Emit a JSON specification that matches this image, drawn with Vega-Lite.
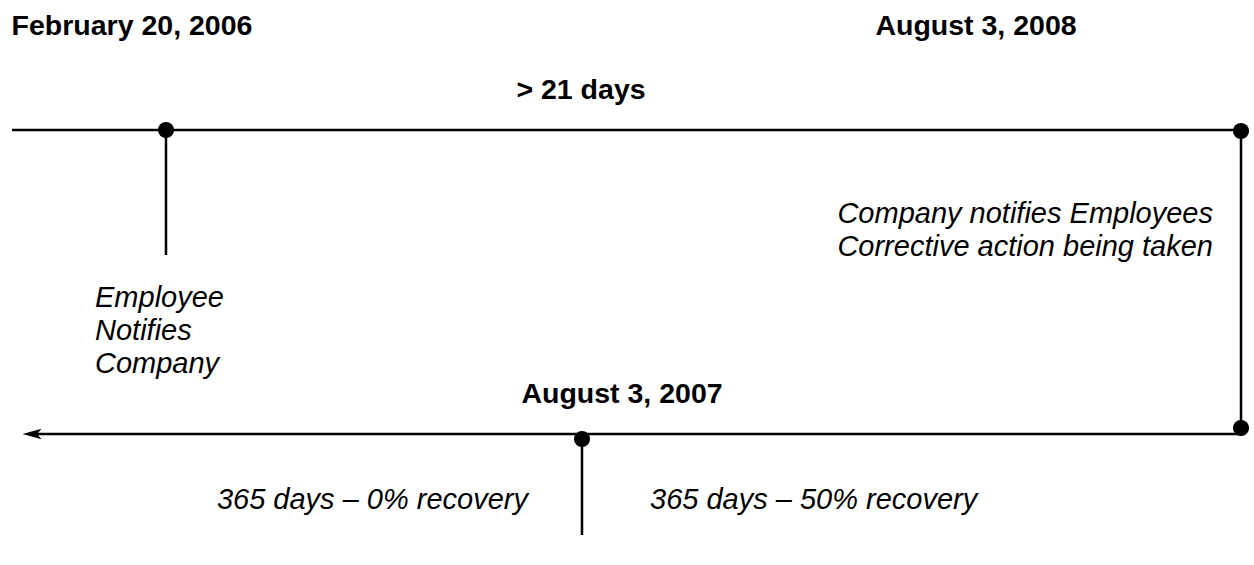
{
  "$schema": "https://vega.github.io/schema/vega-lite/v6.json",
  "width": 1254,
  "height": 565,
  "padding": 0,
  "autosize": {"type": "fit", "contains": "padding"},
  "background": "white",
  "config": {"view": {"stroke": null}},
  "layer": [
    {
      "data": {"values": [
        {"x1": 12, "y1": 130, "x2": 1241, "y2": 130},
        {"x1": 166, "y1": 130, "x2": 166, "y2": 255},
        {"x1": 1241, "y1": 130, "x2": 1241, "y2": 430},
        {"x1": 30, "y1": 434, "x2": 1241, "y2": 434},
        {"x1": 582, "y1": 438, "x2": 582, "y2": 535}
      ]},
      "mark": {"type": "rule", "color": "black", "strokeWidth": 2.5},
      "encoding": {
        "x": {"field": "x1", "type": "quantitative", "scale": {"domain": [0, 1254], "nice": false, "zero": false}, "axis": null},
        "x2": {"field": "x2"},
        "y": {"field": "y1", "type": "quantitative", "scale": {"domain": [0, 565], "nice": false, "zero": false, "reverse": true}, "axis": null},
        "y2": {"field": "y2"}
      }
    },
    {
      "data": {"values": [
        {"x": 166, "y": 130},
        {"x": 1241, "y": 131},
        {"x": 1241, "y": 428},
        {"x": 582, "y": 439}
      ]},
      "mark": {"type": "point", "shape": "circle", "filled": true, "color": "black", "size": 260, "opacity": 1},
      "encoding": {
        "x": {"field": "x", "type": "quantitative"},
        "y": {"field": "y", "type": "quantitative"}
      }
    },
    {
      "data": {"values": [{"x": 32, "y": 434}]},
      "mark": {"type": "point", "shape": "M -1 0 L 1 -0.55 L 0.55 0 L 1 0.55 Z", "filled": true, "color": "black", "size": 360, "opacity": 1},
      "encoding": {
        "x": {"field": "x", "type": "quantitative"},
        "y": {"field": "y", "type": "quantitative"}
      }
    },
    {
      "data": {"values": [
        {"x": 132, "y": 35, "label": "February 20, 2006"},
        {"x": 976, "y": 35, "label": "August 3, 2008"},
        {"x": 581, "y": 99, "label": "> 21 days"},
        {"x": 622, "y": 403, "label": "August 3, 2007"}
      ]},
      "mark": {"type": "text", "font": "Liberation Sans", "fontWeight": "bold", "fontSize": 28.5, "align": "center", "baseline": "alphabetic", "color": "black"},
      "encoding": {
        "x": {"field": "x", "type": "quantitative"},
        "y": {"field": "y", "type": "quantitative"},
        "text": {"field": "label"}
      }
    },
    {
      "data": {"values": [
        {"x": 95, "y": 307, "label": "Employee"},
        {"x": 95, "y": 340, "label": "Notifies"},
        {"x": 95, "y": 373, "label": "Company"},
        {"x": 650, "y": 509, "label": "365 days – 50% recovery"}
      ]},
      "mark": {"type": "text", "font": "Liberation Sans", "fontStyle": "italic", "fontSize": 29, "align": "left", "baseline": "alphabetic", "color": "black"},
      "encoding": {
        "x": {"field": "x", "type": "quantitative"},
        "y": {"field": "y", "type": "quantitative"},
        "text": {"field": "label"}
      }
    },
    {
      "data": {"values": [
        {"x": 1213, "y": 223, "label": "Company notifies Employees"},
        {"x": 1213, "y": 256, "label": "Corrective action being taken"},
        {"x": 528, "y": 509, "label": "365 days – 0% recovery"}
      ]},
      "mark": {"type": "text", "font": "Liberation Sans", "fontStyle": "italic", "fontSize": 29, "align": "right", "baseline": "alphabetic", "color": "black"},
      "encoding": {
        "x": {"field": "x", "type": "quantitative"},
        "y": {"field": "y", "type": "quantitative"},
        "text": {"field": "label"}
      }
    }
  ]
}
